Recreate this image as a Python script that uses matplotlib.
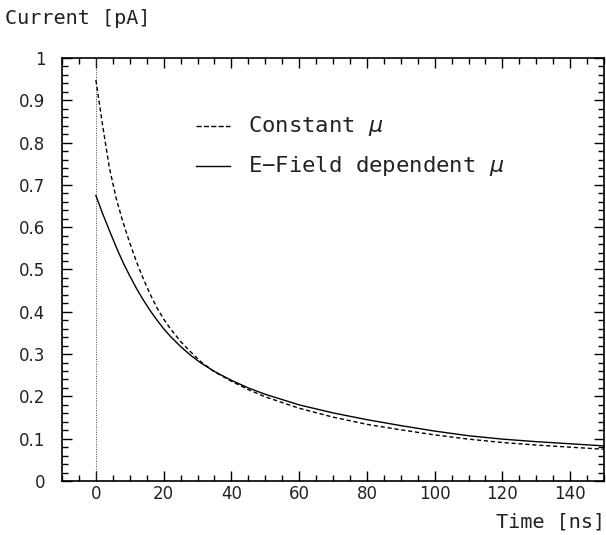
import matplotlib
matplotlib.use("Agg")
import matplotlib.pyplot as plt
from matplotlib.lines import Line2D
from matplotlib.ticker import MultipleLocator, FuncFormatter

# Induced current pulses vs. time
t_const = [0, 2, 4, 6, 8, 10, 12, 14, 16, 18, 20, 22, 25, 28, 31, 35, 40, 45,
           50, 60, 70, 80, 90, 100, 110, 120, 130, 140, 150]
i_const = [0.948, 0.840, 0.740, 0.668, 0.612, 0.563, 0.518, 0.478, 0.442,
           0.410, 0.383, 0.360, 0.330, 0.305, 0.282, 0.258, 0.236, 0.216,
           0.199, 0.172, 0.151, 0.134, 0.121, 0.109, 0.099, 0.091, 0.085,
           0.080, 0.075]

t_efield = [0, 2, 4, 6, 8, 10, 12, 14, 16, 18, 20, 22, 25, 28, 31, 35, 40, 45,
            50, 60, 70, 80, 90, 100, 110, 120, 130, 140, 150]
i_efield = [0.675, 0.632, 0.592, 0.553, 0.517, 0.485, 0.455, 0.428, 0.403,
            0.381, 0.360, 0.342, 0.318, 0.297, 0.279, 0.259, 0.238, 0.220,
            0.205, 0.180, 0.161, 0.145, 0.131, 0.118, 0.107, 0.099, 0.093,
            0.088, 0.083]

legend_labels = ["Constant $\\mu$", "E\u2212Field dependent $\\mu$"]
y_title = "Current [pA]"
x_title = "Time [ns]"

plt.rcParams["font.family"] = "DejaVu Sans"
plt.rcParams["mathtext.fontset"] = "dejavusans"
label_font = "DejaVu Sans Mono"
text_color = "#222222"

fig = plt.figure(figsize=(6.06, 5.35), dpi=100)
ax = fig.add_axes([62 / 606, 1 - 481 / 535, 542 / 606, 423 / 535])

ax.plot([0, 0], [0, 1], color="#444444", lw=0.7, ls=(0, (1, 1.5)))
l1, = ax.plot(t_const, i_const, color="black", lw=1.0, ls=(0, (3, 2)))
l2, = ax.plot(t_efield, i_efield, color="black", lw=1.0, ls="-")

ax.set_xlim(-10, 150)
ax.set_ylim(0, 1)
ax.xaxis.set_major_locator(MultipleLocator(20))
ax.xaxis.set_minor_locator(MultipleLocator(5))
ax.yaxis.set_major_locator(MultipleLocator(0.1))
ax.yaxis.set_minor_locator(MultipleLocator(0.02))
ax.yaxis.set_major_formatter(FuncFormatter(
    lambda v, p: "0" if abs(v) < 1e-9 else ("1" if abs(v - 1) < 1e-9 else f"{v:.1f}")))

ax.tick_params(which="both", direction="in", top=True, right=True,
               labelsize=12, width=1.0, colors="black", labelcolor=text_color)
ax.tick_params(which="major", length=7)
ax.tick_params(which="minor", length=4)
ax.tick_params(axis="y", which="major", pad=12)
ax.tick_params(axis="x", which="major", pad=3)
for s in ax.spines.values():
    s.set_linewidth(1.2)

# Legend drawn in axes coordinates
legend_rows = [(l1, 0.840), (l2, 0.745)]
for (line, yrow), text in zip(legend_rows, legend_labels):
    ax.add_line(Line2D([0.248, 0.310], [yrow, yrow], transform=ax.transAxes,
                       color="black", lw=1.0, ls=line.get_linestyle()))
    ax.text(0.343, yrow, text, transform=ax.transAxes, fontsize=16,
            family=[label_font, "DejaVu Sans"], color=text_color,
            ha="left", va="center")

fig.text(5 / 606, 1 - 18 / 535, y_title, fontsize=14.5, family=label_font,
         color=text_color, ha="left", va="center")
fig.text(605 / 606, 1 - 522 / 535, x_title, fontsize=14.5, family=label_font,
         color=text_color, ha="right", va="center")

fig.savefig("out.png", dpi=100)
